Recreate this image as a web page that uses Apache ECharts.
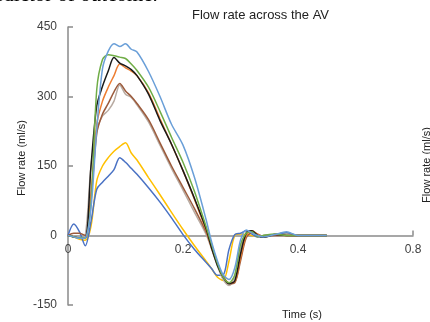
<!DOCTYPE html>
<html>
<head>
<meta charset="utf-8">
<script src="https://cdn.jsdelivr.net/npm/echarts@6/dist/echarts.min.js"></script>
<style>
  html, body { margin: 0; padding: 0; background: #fff; }
  #chart { width: 430px; height: 322px; }
</style>
</head>
<body>
<div id="chart"></div>
<script>
// time samples (s)
var times = [0, 0.01, 0.02, 0.03, 0.04, 0.05, 0.06, 0.07, 0.08, 0.09, 0.10, 0.11, 0.12, 0.14, 0.16, 0.18,
    0.20, 0.22, 0.24, 0.25, 0.26, 0.27, 0.28, 0.29, 0.30, 0.31, 0.32, 0.33, 0.34, 0.36, 0.38, 0.40, 0.45];

// flow rate (ml/s), one array per curve
var lightBlue = [0, -3, -6, -5, 60, 230, 360, 398, 414, 408, 414, 402, 396, 354, 300, 240,
    195, 125, 35, -15, -55, -85, -95, -70, -10, 12, 5, 0, -3, 2, 8, 0, 0];
var green = [0, -3, -5, -5, 70, 315, 380, 390, 388, 385, 382, 370, 356, 320, 268, 212,
    158, 95, 20, -20, -60, -90, -102, -85, -20, 5, 8, -2, 0, 3, 0, 0, 0];
var black = [0, -3, -5, -5, 150, 280, 322, 355, 384, 372, 366, 358, 345, 305, 248, 197,
    140, 80, 15, -28, -65, -90, -104, -98, -40, 5, 10, 0, -4, 2, 0, 0, 0];
var orange = [0, -3, -5, -5, 90, 240, 290, 320, 345, 370, 362, 355, 345, 308, 252, 197,
    140, 78, 12, -28, -62, -88, -102, -100, -48, 0, 10, 3, -3, 2, 0, 0, 0];
var brown = [0, 5, 5, 0, 80, 220, 262, 285, 310, 328, 312, 300, 285, 250, 200, 150,
    104, 58, 8, -25, -60, -90, -104, -102, -55, -5, 6, 3, -2, 0, 0, 0, 0];
var tan = [0, -3, -5, 0, 150, 228, 258, 270, 290, 325, 305, 298, 282, 245, 195, 145,
    98, 50, 3, -30, -66, -96, -108, -88, -28, 6, 10, 0, -3, 0, 0, 0, 0];
var yellow = [0, -3, -8, -10, 20, 118, 150, 168, 182, 192, 200, 178, 163, 125, 88, 50,
    13, -22, -55, -72, -90, -97, -55, 0, 3, 2, 0, -3, 0, 2, 6, 0, 0];
var blue = [0, 25, 8, -22, 30, 100, 115, 128, 142, 168, 158, 145, 132, 103, 72, 38,
    2, -30, -58, -72, -86, -85, -30, 2, 5, 10, 3, -3, 0, 2, 6, 0, 0];

var yTicks = [-150, 0, 150, 300, 450];
var xTickLabels = ['0', '0.2', '0.4', '0.8'];

var curves = [
    {values: yellow, color: '#ffc000'},
    {values: blue, color: '#4a72c4'},
    {values: tan, color: '#b8aba2'},
    {values: brown, color: '#9c5b3c'},
    {values: orange, color: '#ed7d31'},
    {values: black, color: '#1a1a1a'},
    {values: green, color: '#70ad47'},
    {values: lightBlue, color: '#6a9fd8'}
];

var series = [];
curves.forEach(function (c) {
    series.push({
        type: 'line',
        data: times.map(function (t, i) { return [t, c.values[i]]; }),
        showSymbol: false,
        smooth: 0.3,
        lineStyle: {color: c.color, width: 1.5},
        itemStyle: {color: c.color}
    });
});

var gridTop = 27, gridBottom = 17, chartH = 322;
// shift the x axis up to the zero line (labels included)
var zeroOffset = (chartH - gridTop - gridBottom) * (0 - yTicks[0]) / (yTicks[yTicks.length - 1] - yTicks[0]);

var chart = echarts.init(document.getElementById('chart'));
chart.setOption({
    animation: false,
    backgroundColor: '#fff',
    grid: {left: 68, right: 17, top: gridTop, bottom: gridBottom},
    xAxis: {
        type: 'value',
        min: 0,
        max: 0.6,
        interval: 0.2,
        offset: -zeroOffset,
        axisLine: {onZero: false, lineStyle: {color: '#8a8a8a', width: 1.5}},
        axisTick: {show: true, inside: true, length: 5, customValues: [0.6], lineStyle: {color: '#8a8a8a', width: 1.5}},
        axisLabel: {
            color: '#404040', fontSize: 12, fontFamily: 'Liberation Sans', margin: 8,
            formatter: function (v) { return xTickLabels[Math.round(v / 0.2)]; }
        },
        splitLine: {show: false}
    },
    yAxis: {
        type: 'value',
        min: yTicks[0],
        max: yTicks[yTicks.length - 1],
        interval: 150,
        axisLine: {show: true, lineStyle: {color: '#8a8a8a', width: 1.5}},
        axisTick: {show: true, inside: true, length: 5, lineStyle: {color: '#8a8a8a', width: 1.5}},
        axisLabel: {color: '#404040', fontSize: 12, fontFamily: 'Liberation Sans', margin: 11},
        splitLine: {show: false}
    },
    graphic: [
        {type: 'text', left: 192, top: 9, style: {text: 'Flow rate across the AV', fill: '#222', font: '13px Liberation Sans'}},
        {type: 'text', x: 22, y: 158, rotation: Math.PI / 2,
            style: {text: 'Flow rate (ml/s)', fill: '#222', font: '11px Liberation Sans', align: 'center', verticalAlign: 'middle'}},
        {type: 'text', x: 302, y: 315,
            style: {text: 'Time (s)', fill: '#222', font: '11px Liberation Sans', align: 'center', verticalAlign: 'middle'}},
        {type: 'text', x: 427, y: 165, rotation: Math.PI / 2,
            style: {text: 'Flow rate (ml/s)', fill: '#222', font: '11px Liberation Sans', align: 'center', verticalAlign: 'middle'}},
        {type: 'text', x: -6, y: -5,
            style: {text: 'edictor of outcome.', fill: '#000', font: '21px Liberation Serif', align: 'left', verticalAlign: 'middle'}}
    ],
    series: series
});
</script>
</body>
</html>
